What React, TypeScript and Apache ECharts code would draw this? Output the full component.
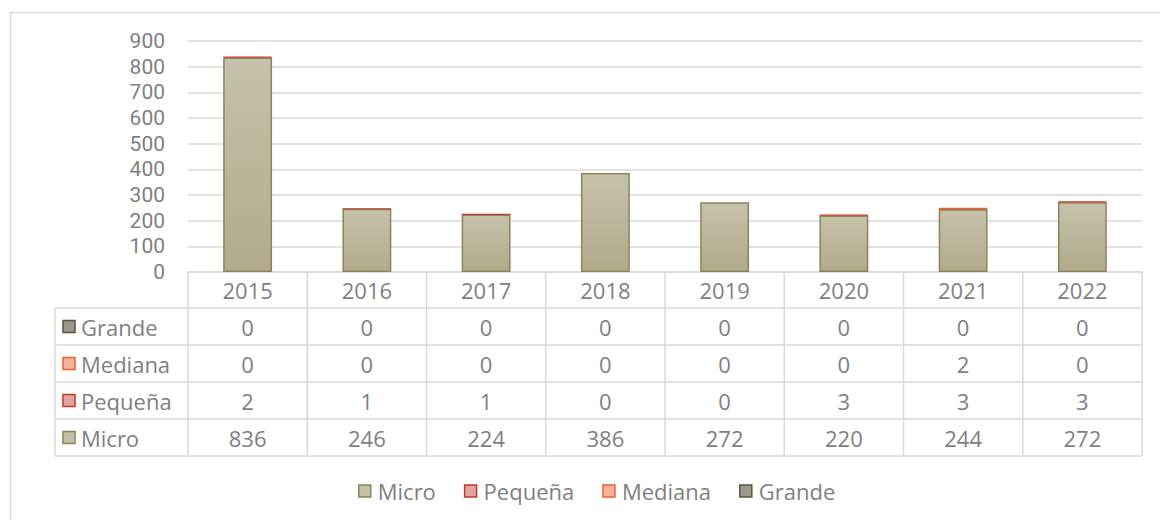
import React, { useEffect, useRef } from "react";
import * as echarts from "echarts";

const years = ["2015", "2016", "2017", "2018", "2019", "2020", "2021", "2022"];
const micro = [836, 246, 224, 386, 272, 220, 244, 272];
const pequena = [2, 1, 1, 0, 0, 3, 3, 3];
const mediana = [0, 0, 0, 0, 0, 0, 2, 0];
const grande = [0, 0, 0, 0, 0, 0, 0, 0];
const yTicks = { min: 0, max: 900, interval: 100 };

const FONT = "'Open Sans', Roboto, sans-serif";
const YFONT = "Roboto, 'Open Sans', sans-serif";
const FS = 22;
const TXT = "#7f7f7f";
const LINE = "#d9d9d9";

const seriesDefs = [
  { name: "Micro", data: micro, fill: "#c2bda5", border: "#8c845a", legendFill: "#c4bfa8" },
  { name: "Pequeña", data: pequena, fill: "#c0392b", border: "#c0392b", legendFill: "#e2a3a0" },
  { name: "Mediana", data: mediana, fill: "#e8642c", border: "#e8642c", legendFill: "#f3b29c" },
  { name: "Grande", data: grande, fill: "#5f5a3e", border: "#5a5438", legendFill: "#9c998c" },
];

export default function App() {
  const ref = useRef<HTMLDivElement>(null);
  useEffect(() => {
    if (!ref.current) return;
    const chart = echarts.init(ref.current, null, { renderer: "svg" });

    const plotLeft = 188;
    const plotRight = 1142;
    const tableLeft = 55;
    const axisY = 272;
    const rowH = 37;
    const headerH = 36;
    const colW = (plotRight - plotLeft) / years.length;

    const tableRows = [...seriesDefs].reverse();
    const graphics: any[] = [];
    graphics.push({
      type: "rect",
      shape: { x: 10.5, y: 12.5, width: 1200, height: 560 },
      style: { fill: "none", stroke: LINE, lineWidth: 1.5 },
      silent: true,
    });
    const tableBottom = axisY + headerH + rowH * tableRows.length;
    for (let r = 0; r <= tableRows.length; r++) {
      const y = axisY + headerH + r * rowH;
      graphics.push({
        type: "line",
        shape: { x1: tableLeft, y1: y, x2: plotRight, y2: y },
        style: { stroke: LINE, lineWidth: 1.5 },
        silent: true,
      });
    }
    for (let c = 0; c <= years.length; c++) {
      const x = plotLeft + c * colW;
      graphics.push({
        type: "line",
        shape: { x1: x, y1: axisY, x2: x, y2: tableBottom },
        style: { stroke: LINE, lineWidth: 1.5 },
        silent: true,
      });
    }
    graphics.push({
      type: "line",
      shape: { x1: tableLeft, y1: axisY + headerH, x2: tableLeft, y2: tableBottom },
      style: { stroke: LINE, lineWidth: 1.5 },
      silent: true,
    });
    tableRows.forEach((s, r) => {
      const cy = axisY + headerH + r * rowH + rowH / 2;
      graphics.push({
        type: "rect",
        shape: { x: 63, y: cy - 6, width: 12, height: 12 },
        style: { fill: s.legendFill, stroke: s.border, lineWidth: 1.5 },
        silent: true,
      });
      graphics.push({
        type: "text",
        x: 81,
        y: cy,
        style: {
          text: s.name,
          fill: TXT,
          font: `${FS}px ${FONT}`,
          lineHeight: 24,
          textAlign: "left",
          textVerticalAlign: "middle",
        },
        silent: true,
      });
      s.data.forEach((v, c) => {
        graphics.push({
          type: "text",
          x: plotLeft + c * colW + colW / 2,
          y: cy,
          style: {
            text: String(v),
            fill: TXT,
            font: `${FS}px ${FONT}`,
            lineHeight: 24,
            textAlign: "center",
            textVerticalAlign: "middle",
          },
          silent: true,
        });
      });
    });

    chart.setOption({
      animation: false,
      textStyle: { fontFamily: FONT },
      grid: { left: plotLeft, right: 1160 - plotRight, top: 41, bottom: 520 - axisY, containLabel: false },
      legend: {
        bottom: 12,
        left: 353,
        itemWidth: 12,
        itemHeight: 12,
        itemGap: 28,
        icon: "rect",
        textStyle: { color: TXT, fontSize: FS, fontFamily: FONT, lineHeight: 24, padding: [0, 0, 0, 2] },
        data: seriesDefs.map((s) => ({
          name: s.name,
          itemStyle: { color: s.legendFill, borderColor: s.border, borderWidth: 1.5 },
        })),
      },
      xAxis: {
        type: "category",
        data: years,
        axisLine: { show: true, lineStyle: { color: LINE, width: 1.5 } },
        axisTick: { show: false },
        axisLabel: { color: TXT, fontSize: FS, fontFamily: FONT, lineHeight: 24, margin: 6 },
      },
      yAxis: {
        type: "value",
        min: yTicks.min,
        max: yTicks.max,
        interval: yTicks.interval,
        axisLine: { show: false },
        axisTick: { show: false },
        axisLabel: { color: TXT, fontSize: 21, fontFamily: YFONT, lineHeight: 20, margin: 23 },
        splitLine: { lineStyle: { color: LINE, width: 1.5 } },
      },
      series: seriesDefs.map((s, i) => ({
        name: s.name,
        type: "bar",
        stack: "total",
        barWidth: "41%",
        data:
          i === 0
            ? s.data
            : s.data.map((v) => ({
                value: v,
                itemStyle: v === 0 ? { borderWidth: 0, opacity: 0 } : {},
              })),
        itemStyle:
          i === 0
            ? {
                color: new echarts.graphic.LinearGradient(0, 0, 0, 1, [
                  { offset: 0, color: "#c6c1aa" },
                  { offset: 1, color: "#b1aa8c" },
                ]),
                borderColor: s.border,
                borderWidth: 1.5,
              }
            : { color: s.fill, borderColor: s.border, borderWidth: 1.2 },
      })),
      graphic: graphics,
    });
    return () => chart.dispose();
  }, []);
  return (
    <div style={{ position: "fixed", left: 0, top: 0, width: 1160, height: 520, background: "#fff" }}>
      <div ref={ref} style={{ width: 1160, height: 520 }} />
    </div>
  );
}
